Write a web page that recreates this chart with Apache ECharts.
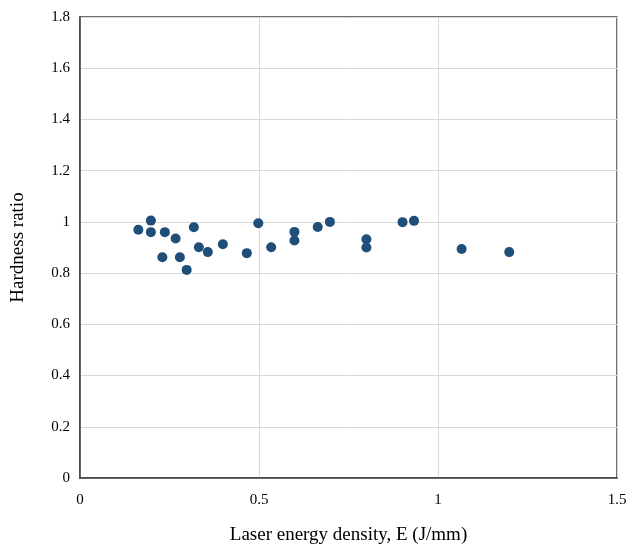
<!DOCTYPE html>
<html><head><meta charset="utf-8">
<script src="https://cdn.jsdelivr.net/npm/echarts@6/dist/echarts.min.js"></script>
<style>html,body{margin:0;padding:0;background:#fff}#c{width:631px;height:546px}</style>
</head><body><div id="c"></div>
<script>
const energy = [0.163,0.198,0.198,0.23,0.237,0.267,0.279,0.298,0.318,0.332,0.357,0.399,0.466,0.498,0.534,0.599,0.599,0.664,0.698,0.80,0.80,0.901,0.933,1.066,1.199];
const hardness = [0.969,1.005,0.960,0.862,0.960,0.935,0.862,0.8125,0.979,0.901,0.882,0.913,0.878,0.995,0.901,0.961,0.927,0.980,1.0,0.932,0.900,0.999,1.004,0.894,0.882];
const xTitle = 'Laser energy density, E (J/mm)';
const yTitle = 'Hardness ratio';
const points = energy.map((e,i)=>[e,hardness[i]]);
const chart = echarts.init(document.getElementById('c'));
const font = 'Liberation Serif, Times New Roman, serif';
chart.setOption({
  animation:false,
  grid:{left:80,top:17,right:14,bottom:68,show:true,borderColor:'#404040',borderWidth:1.5,containLabel:false,outerBoundsMode:'none'},
  xAxis:{type:'value',min:0,max:1.5,interval:0.5,
    name:xTitle,nameLocation:'middle',nameGap:48,
    nameTextStyle:{fontFamily:font,fontSize:19,color:'#000'},
    axisLine:{show:true,lineStyle:{color:'#404040',width:1.5}},axisTick:{show:false},
    axisLabel:{fontFamily:font,fontSize:15,color:'#000',margin:15},
    splitLine:{show:true,lineStyle:{color:'#d9d9d9',width:1}}},
  yAxis:{type:'value',min:0,max:1.8,interval:0.2,
    name:yTitle,nameLocation:'middle',nameGap:52,
    nameTextStyle:{fontFamily:font,fontSize:19,color:'#000'},
    axisLine:{show:true,lineStyle:{color:'#404040',width:1.5}},axisTick:{show:false},
    axisLabel:{fontFamily:font,fontSize:15,color:'#000',margin:10,formatter:v=>String(+v.toFixed(1))},
    splitLine:{show:true,lineStyle:{color:'#d9d9d9',width:1}}},
  series:[{type:'scatter',data:points,symbol:'circle',symbolSize:10,
    itemStyle:{color:'#1f4e79',opacity:1}}]
});
</script></body></html>
